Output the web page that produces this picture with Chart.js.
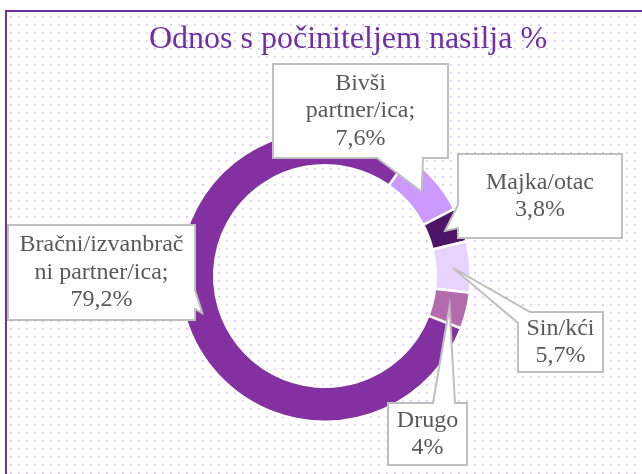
<!DOCTYPE html>
<html><head><meta charset="utf-8">
<script src="https://cdn.jsdelivr.net/npm/chart.js@4.4.1/dist/chart.umd.min.js"></script>
<style>html,body{margin:0;padding:0;background:#fff;overflow:hidden}</style>
</head><body>
<canvas id="c" width="642" height="474" style="display:block;width:642px;height:474px"></canvas>
<script>
// ---- data ----
const chartTitle = 'Odnos s počiniteljem nasilja %';
const categories = ['Bračni/izvanbračni partner/ica', 'Bivši partner/ica', 'Majka/otac', 'Sin/kći', 'Drugo'];
const values = [79.2, 7.6, 3.8, 5.7, 4];
const separators = ['; ', '; ', '\n', '\n', '\n'];

// ---- styles / layout ----
const colors = ['#8331A0', '#CC99FF', '#4E1467', '#E8D2FF', '#B46BAE'];
const FONT = '"Liberation Serif", "Times New Roman", serif';
const callouts = [
  {wrap: 174, pts: [[8,225],[195,225],[195,290],'tip',[195,309],[195,320],[8,320]], box:[8,225,195,320]},
  {wrap: 150, pts: [[273,64],[448,64],[448,158],[423,158],'tip',[377,158],[273,158]], box:[273,64,448,158]},
  {wrap: 150, pts: [[458,154],[622,154],[622,238],[458,238],[458,228],'tip',[458,205]], box:[458,154,622,238]},
  {wrap: 80, pts: [[530,312],[603,312],[603,372],[518,372],[518,323],'tip'], box:[518,312,603,372]},
  {wrap: 75, pts: [[388,403],[433,403],'tip',[455,403],[467,403],[467,465],[388,465]], box:[388,403,467,465]}
];

function fmt(v){ return String(v).replace('.', ',') + '%'; }

function wrapText(ctx, text, maxW){
  const out = [];
  text.split('\n').forEach(par => {
    const words = par.split(' ');
    let line = '';
    words.forEach(w => {
      const cand = line ? line + ' ' + w : w;
      if (ctx.measureText(cand).width <= maxW) { line = cand; return; }
      if (line) { out.push(line); line = ''; }
      let chunk = '';
      for (const ch of w) {
        if (ctx.measureText(chunk + ch).width > maxW && chunk) { out.push(chunk); chunk = ch; }
        else chunk += ch;
      }
      line = chunk;
    });
    if (line) out.push(line);
  });
  return out;
}

const bgPlugin = {
  id: 'bg',
  beforeDraw(chart){
    const ctx = chart.ctx;
    ctx.save();
    ctx.fillStyle = '#ffffff';
    ctx.fillRect(0, 0, chart.width, chart.height);
    for (let y = 16, r = 0; y < chart.height; y += 8, r++) {
      for (let x = 10, k = 0; x < chart.width; x += 8, k++) {
        ctx.fillStyle = (k % 2 === 0) ? 'rgba(214,190,245,0.8)' : 'rgba(214,190,245,0.55)';
        ctx.fillRect(x, y, 2, 2);
      }
    }
    ctx.strokeStyle = '#7030A0';
    ctx.lineWidth = 2;
    ctx.beginPath();
    ctx.moveTo(6, chart.height + 2);
    ctx.lineTo(6, 11);
    ctx.lineTo(chart.width + 2, 11);
    ctx.stroke();
    ctx.restore();
  }
};

const labelPlugin = {
  id: 'callouts',
  afterDraw(chart){
    const ctx = chart.ctx;
    const meta = chart.getDatasetMeta(0);
    ctx.save();
    ctx.fillStyle = '#7030A0';
    ctx.font = '32px ' + FONT;
    ctx.textAlign = 'center';
    ctx.textBaseline = 'alphabetic';
    ctx.fillText(chartTitle, 348, 48);

    ctx.font = '24px ' + FONT;
    values.forEach((v, i) => {
      const c = callouts[i];
      const arc = meta.data[i];
      const tip = arc.getCenterPoint();
      ctx.beginPath();
      c.pts.forEach((p, k) => {
        const q = p === 'tip' ? [tip.x, tip.y] : p;
        if (k === 0) ctx.moveTo(q[0], q[1]); else ctx.lineTo(q[0], q[1]);
      });
      ctx.closePath();
      ctx.fillStyle = '#ffffff';
      ctx.fill();
      ctx.strokeStyle = '#BFBFBF';
      ctx.lineWidth = 2;
      ctx.lineJoin = 'miter';
      ctx.stroke();

      const txt = categories[i] + separators[i] + fmt(v);
      const lines = wrapText(ctx, txt, c.wrap);
      const lh = 27.5;
      const [x0, y0, x1, y1] = c.box;
      const cx = (x0 + x1) / 2, cy = (y0 + y1) / 2;
      ctx.fillStyle = '#595959';
      ctx.textAlign = 'center';
      ctx.textBaseline = 'middle';
      lines.forEach((ln, k) => {
        ctx.fillText(ln, cx, cy + (k - (lines.length - 1) / 2) * lh);
      });
    });
    ctx.restore();
  }
};

new Chart(document.getElementById('c'), {
  type: 'doughnut',
  data: {
    labels: categories,
    datasets: [{
      data: values,
      backgroundColor: colors,
      borderColor: '#ffffff',
      borderWidth: 2.5,
      hoverOffset: 0
    }]
  },
  options: {
    responsive: false,
    animation: false,
    devicePixelRatio: 1,
    rotation: 111,
    cutout: '76%',
    layout: {padding: {left: 178, right: 170, top: 129, bottom: 51}},
    plugins: {legend: {display: false}, tooltip: {enabled: false}, title: {display: false}}
  },
  plugins: [bgPlugin, labelPlugin]
});
</script>
</body></html>
